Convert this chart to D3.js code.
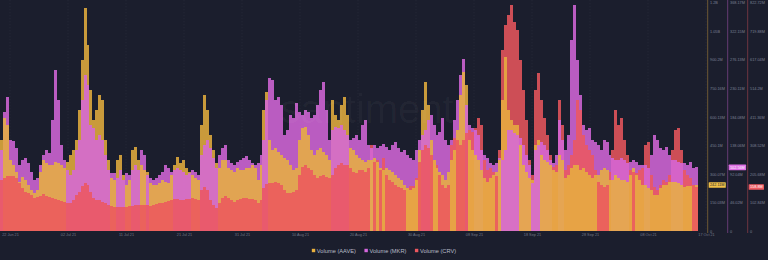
<!DOCTYPE html>
<html>
<head>
<meta charset="utf-8">
<script src="https://cdn.jsdelivr.net/npm/d3@7"></script>
<style>
  html, body { margin: 0; padding: 0; background: #1b1e2d; }
  svg { display: block; font-family: "Liberation Sans", Arial, sans-serif; }
</style>
</head>
<body>
<svg id="chart" width="768" height="260"></svg>
<script>
// 12h candles, volumes in millions USD
const startDate = new Date(Date.UTC(2021, 5, 22));
const stepHours = 12;

const aaveVolume = [478,594,557,373,347,310,258,284,268,242,
  216,200,216,310,373,358,347,347,363,358,
  347,331,363,400,426,478,636,899,1172,978,
  741,584,636,715,689,478,373,279,268,373,
  400,294,242,268,426,442,373,347,321,310,
  252,242,242,252,268,258,252,294,347,389,
  358,373,331,310,294,279,268,557,715,636,
  505,426,358,331,373,373,331,321,310,331,
  321,321,331,331,347,331,268,347,636,731,
  478,426,436,415,400,384,373,347,321,331,
  478,542,547,505,426,400,426,436,415,400,
  373,689,610,584,662,704,610,436,426,400,
  384,373,363,373,373,384,363,331,321,331,
  321,310,294,279,268,242,226,216,226,268,
  426,636,783,662,478,373,331,310,294,268,
  310,373,426,531,715,836,768,478,426,400,
  373,321,279,258,279,294,310,373,689,915,
  636,584,557,557,452,347,310,279,268,452,
  478,400,373,363,347,321,310,400,373,279,
  294,331,347,347,321,331,310,294,279,294,
  294,321,331,321,268,268,294,279,268,268,
  258,294,331,294,268,242,242,226,216,189,
  189,226,242,242,258,258,258,252,242,231,
  237,237,242,242.11];

const mkrVolume = [130.6,191.9,216.1,146.8,145.1,133.9,106.4,114.5,117.7,109.7,
  95.1,82.2,85.5,106.4,122.6,130.6,125.8,179.0,259.6,211.3,
  138.7,114.5,98.4,90.3,98.4,130.6,146.8,211.3,251.6,235.5,
  170.9,166.1,146.8,154.8,146.8,122.6,98.4,93.5,93.5,85.5,
  98.4,82.2,93.5,90.3,98.4,106.4,98.4,130.6,122.6,90.3,
  85.5,82.2,85.5,90.3,95.1,106.4,101.6,95.1,98.4,101.6,
  98.4,95.1,90.3,93.5,98.4,95.1,90.3,122.6,138.7,146.8,
  133.9,117.7,101.6,122.6,133.9,138.7,114.5,109.7,106.4,111.3,
  114.5,117.7,121.0,114.5,109.7,106.4,109.7,122.6,146.8,211.3,
  246.7,243.5,211.3,216.1,203.2,154.8,162.9,187.1,182.2,206.4,
  191.9,187.1,195.1,191.9,182.2,187.1,203.2,227.4,240.3,195.1,
  146.8,162.9,167.7,166.1,170.9,162.9,154.8,146.8,150.0,154.8,
  146.8,170.9,179.0,138.7,133.9,138.7,133.9,137.1,140.3,135.5,
  130.6,138.7,143.5,133.9,127.4,130.6,122.6,117.7,114.5,130.6,
  146.8,154.8,162.9,179.0,187.1,170.9,154.8,159.7,182.2,146.8,
  138.7,146.8,179.0,211.3,251.6,277.4,203.2,170.9,166.1,162.9,
  154.8,130.6,122.6,117.7,109.7,106.4,109.7,117.7,114.5,130.6,
  162.9,162.9,158.0,154.8,150.0,138.7,122.6,106.4,77.4,130.6,
  138.7,143.5,138.7,130.6,114.5,109.7,122.6,179.0,146.8,130.6,
  154.8,308.0,364.5,275.8,219.3,170.9,162.9,166.1,146.8,143.5,
  138.7,130.6,146.8,143.5,122.6,117.7,114.5,114.5,117.7,114.5,
  109.7,111.3,114.5,111.3,106.4,106.4,106.4,101.6,122.6,154.8,
  146.8,133.9,130.6,135.5,122.6,114.5,114.5,111.3,109.7,109.7,
  106.4,111.3,101.6,102.56];

const crvVolume = [183.8,191.0,198.2,198.2,198.2,191.0,173.0,155.0,140.5,136.9,
  129.7,118.9,122.5,126.1,133.3,126.1,122.5,118.9,115.3,111.7,
  108.1,104.5,100.9,100.9,111.7,129.7,140.5,162.2,173.0,165.8,
  140.5,118.9,111.7,111.7,104.5,100.9,93.7,90.1,86.5,86.5,
  86.5,86.5,86.5,90.1,90.1,93.7,93.7,93.7,93.7,93.7,
  90.1,93.7,97.3,100.9,100.9,104.5,108.1,111.7,115.3,115.3,
  111.7,111.7,115.3,115.3,118.9,115.3,111.7,147.8,158.6,147.8,
  111.7,93.7,82.9,100.9,118.9,126.1,118.9,111.7,104.5,111.7,
  115.3,118.9,118.9,115.3,115.3,111.7,100.9,111.7,155.0,169.4,
  173.0,173.0,176.6,173.0,165.8,147.8,136.9,136.9,140.5,147.8,
  201.8,230.6,237.8,227.0,219.8,201.8,191.0,198.2,201.8,194.6,
  191.0,201.8,227.0,237.8,245.1,237.8,237.8,227.0,212.6,209.0,
  219.8,219.8,212.6,227.0,309.9,248.7,255.9,219.8,263.1,201.8,
  183.8,176.6,165.8,158.6,155.0,147.8,155.0,162.2,162.2,191.0,
  248.7,291.9,309.9,299.1,273.9,255.9,237.8,201.8,165.8,155.0,
  165.8,309.9,335.1,327.9,309.9,327.9,353.2,364.0,356.8,371.2,
  407.2,382.0,255.9,219.8,227.0,212.6,198.2,291.9,652.3,742.4,
  778.4,814.4,753.2,724.3,616.2,508.1,400.0,255.9,201.8,508.1,
  569.4,472.1,407.2,346.0,273.9,230.6,237.8,472.1,382.0,219.8,
  237.8,273.9,327.9,472.1,436.0,346.0,309.9,291.9,273.9,219.8,
  176.6,165.8,158.6,165.8,212.6,291.9,436.0,382.0,407.2,327.9,
  273.9,219.8,212.6,209.0,219.8,227.0,309.9,320.7,201.8,158.6,
  147.8,165.8,183.8,176.6,201.8,291.9,364.0,371.2,291.9,219.8,
  201.8,191.0,165.8,158.8];

const xTickLabels = ["22 Jun 21", "02 Jul 21", "11 Jul 21", "21 Jul 21", "31 Jul 21", "10 Aug 21",
  "20 Aug 21", "30 Aug 21", "08 Sep 21", "18 Sep 21", "28 Sep 21", "08 Oct 21", "17 Oct 21"];

const aaveTicks = ["0", "150.03M", "300.07M", "450.1M", "600.13M", "750.16M", "900.2M", "1.05B", "1.2B"];
const mkrTicks = ["0", "46.02M", "92.04M", "138.06M", "184.08M", "230.11M", "276.13M", "322.15M", "368.17M"];
const crvTicks = ["0", "102.84M", "205.68M", "308.52M", "411.36M", "514.2M", "617.04M", "719.88M", "822.72M"];

// layout
const plotBottom = 231;
const plotTop = 2.7;
const plotRight = 698;
const barOpacity = 0.85;

const svg = d3.select("#chart");

const series = [
  { key: "AAVE", values: aaveVolume, max: 1200.26, ticks: aaveTicks, color: "#e8b03e", box: "#f0c048", boxText: "#1b1e2d", axisX: 707.7 },
  { key: "MKR", values: mkrVolume, max: 368.17, ticks: mkrTicks, color: "#d667dc", box: "#de6fe4", boxText: "#ffffff", axisX: 727.7 },
  { key: "CRV", values: crvVolume, max: 822.72, ticks: crvTicks, color: "#ec575e", box: "#ef5a61", boxText: "#ffffff", axisX: 747.7 }
];
series.forEach(s => {
  s.y = d3.scaleLinear().domain([0, s.max]).range([plotBottom, plotTop]);
});

const x = d3.scaleTime()
  .domain([startDate, d3.utcHour.offset(startDate, stepHours * aaveVolume.length)])
  .range([0, plotRight]);

const xLabels = d3.scalePoint().domain(xTickLabels).range([10, 706]);

// ---- grid ----
svg.append("g")
  .selectAll("line")
  .data(xTickLabels)
  .join("line")
  .attr("x1", d => xLabels(d))
  .attr("x2", d => xLabels(d))
  .attr("y1", 0)
  .attr("y2", plotBottom)
  .attr("stroke", "#ffffff")
  .attr("stroke-opacity", 0.045)
  .attr("stroke-dasharray", "1.5,1.5");

// ---- bars: per candle, tallest (relative to its own axis) goes to the back ----
const bars = [];
aaveVolume.forEach((_, i) => {
  const t0 = d3.utcHour.offset(startDate, i * stepHours);
  const t1 = d3.utcHour.offset(startDate, (i + 1) * stepHours);
  series
    .map(s => ({ s, t0, t1, v: s.values[i] }))
    .sort((a, b) => b.v / b.s.max - a.v / a.s.max)
    .forEach(d => bars.push(d));
});

// snap bar edges to whole pixels so neighbours neither gap nor overlap
svg.append("g")
  .attr("shape-rendering", "crispEdges")
  .selectAll("rect")
  .data(bars)
  .join("rect")
  .attr("x", d => Math.round(x(d.t0)))
  .attr("width", d => Math.round(x(d.t1)) - Math.round(x(d.t0)))
  .attr("y", d => Math.round(d.s.y(d.v)))
  .attr("height", d => plotBottom - Math.round(d.s.y(d.v)))
  .attr("fill", d => d.s.color)
  .attr("fill-opacity", barOpacity);

// watermark
svg.append("text")
  .attr("x", 367)
  .attr("y", 123)
  .attr("text-anchor", "middle")
  .attr("font-size", 40)
  .attr("fill", "#ffffff")
  .attr("fill-opacity", 0.035)
  .text("santiment");

// ---- x axis ----
const xAxis = svg.append("g")
  .attr("transform", `translate(0,${plotBottom})`)
  .call(d3.axisBottom(xLabels).tickSize(0).tickPadding(2.6))
  .attr("font-size", 3.8)
  .attr("font-family", null)
  .attr("color", "#737888");
xAxis.select(".domain").remove();

// ---- right axes ----
series.forEach(s => {
  const g = svg.append("g")
    .attr("transform", `translate(${s.axisX},0)`)
    .call(d3.axisRight(s.y)
      .tickValues(d3.range(9).map(k => s.max * k / 8))
      .tickFormat((d, i) => s.ticks[i])
      .tickSize(0)
      .tickPadding(2.4))
    .attr("font-size", 3.8)
    .attr("font-family", null)
    .attr("color", "#7c8193");
  g.select(".domain").remove();

  g.append("line")
    .attr("y1", 0)
    .attr("y2", 233)
    .attr("stroke", s.color)
    .attr("stroke-opacity", 0.4);

  // last value marker
  const last = s.values[s.values.length - 1];
  const label = `${+last.toFixed(2)}M`;
  const marker = g.append("g").attr("transform", `translate(1,${s.y(last)})`);
  const rect = marker.append("rect")
    .attr("y", -2.8)
    .attr("height", 5.6)
    .attr("rx", 0.6)
    .attr("fill", s.box);
  const txt = marker.append("text")
    .attr("x", 1.3)
    .attr("dy", "0.35em")
    .attr("font-size", 3.8)
    .attr("fill", s.boxText)
    .text(label);
  rect.attr("width", txt.node().getComputedTextLength() + 2.6);
});

// ---- legend ----
const legend = svg.append("g");
let lx = 0;
series.forEach(s => {
  const item = legend.append("g").attr("transform", `translate(${lx},0)`);
  item.append("rect")
    .attr("y", -1.7)
    .attr("width", 3.4)
    .attr("height", 3.4)
    .attr("fill", s.color);
  const t = item.append("text")
    .attr("x", 5)
    .attr("dy", "0.35em")
    .attr("font-size", 5.7)
    .attr("fill", "#b8bcc8")
    .text(`Volume (${s.key})`);
  lx += 5 + t.node().getComputedTextLength() + 8.5;
});
legend.attr("transform", `translate(${384 - (lx - 8.5) / 2},250.5)`);
</script>
</body>
</html>
